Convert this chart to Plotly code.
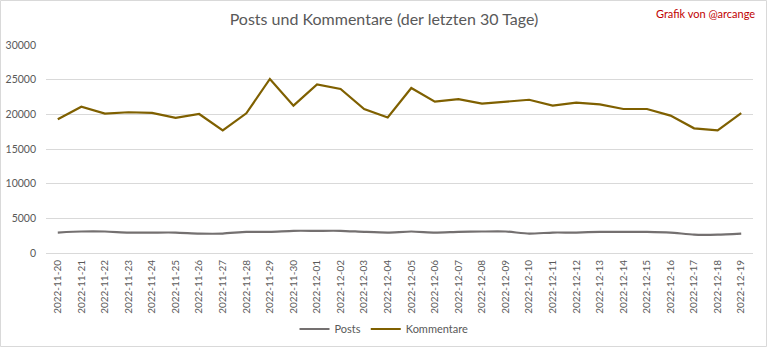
import plotly.graph_objects as go

dates = ["2022-11-20","2022-11-21","2022-11-22","2022-11-23","2022-11-24","2022-11-25",
         "2022-11-26","2022-11-27","2022-11-28","2022-11-29","2022-11-30","2022-12-01",
         "2022-12-02","2022-12-03","2022-12-04","2022-12-05","2022-12-06","2022-12-07",
         "2022-12-08","2022-12-09","2022-12-10","2022-12-11","2022-12-12","2022-12-13",
         "2022-12-14","2022-12-15","2022-12-16","2022-12-17","2022-12-18","2022-12-19"]

posts = [2950, 3100, 3100, 2950, 2950, 2950, 2800, 2800, 3050, 3050,
         3200, 3200, 3200, 3050, 2950, 3100, 2950, 3050, 3100, 3100,
         2800, 2950, 2950, 3050, 3050, 3050, 2950, 2650, 2650, 2800]

kommentare = [19300, 21100, 20100, 20300, 20200, 19500, 20050, 17700, 20150, 25100,
              21250, 24300, 23650, 20770, 19550, 23800, 21830, 22200, 21540, 21830,
              22100, 21250, 21680, 21440, 20770, 20770, 19810, 17980, 17690, 20190]

y_ticks = [0, 5000, 10000, 15000, 20000, 25000, 30000]

FONT = "Lato"
GREY = "#595959"
W, H = 768, 349
L, R, T, B = 46, 15, 45, 96
PW, PH = W - L - R, H - T - B

fig = go.Figure()
fig.add_trace(go.Scatter(x=dates, y=posts, name="Posts", mode="lines",
                         line=dict(color="#747070", width=2.2, shape="spline", smoothing=0.6)))
fig.add_trace(go.Scatter(x=dates, y=kommentare, name="Kommentare", mode="lines",
                         line=dict(color="#7F6000", width=2.2)))

fig.update_layout(
    width=W, height=H,
    margin=dict(l=L, r=R, t=T, b=B, autoexpand=False),
    paper_bgcolor="white", plot_bgcolor="white",
    font=dict(family=FONT, color=GREY, size=11),
    title=dict(text="Posts und Kommentare (der letzten 30 Tage)", x=0.5, xanchor="center",
               y=1 - 19 / H, yanchor="middle", yref="container",
               font=dict(family=FONT, size=16, color=GREY)),
    showlegend=True,
    legend=dict(orientation="h", x=0.5, xanchor="center", xref="container",
                y=1 - 329 / H, yanchor="middle", yref="container",
                font=dict(family=FONT, size=11, color=GREY), itemwidth=30,
                bgcolor="rgba(0,0,0,0)"),
    xaxis=dict(type="category", range=[-0.5, len(dates) - 0.5], tickangle=-90,
               showgrid=False, showline=True, linecolor="#D9D9D9", linewidth=1,
               ticks="", automargin=False, ticklabelstandoff=2,
               tickfont=dict(family=FONT, size=10, color=GREY), fixedrange=True),
    yaxis=dict(range=[0, 30000], tickvals=y_ticks, ticktext=[str(v) for v in y_ticks],
               showgrid=True, gridcolor="#D9D9D9", gridwidth=1, zeroline=False,
               showline=False, ticks="", ticklabelstandoff=9, automargin=False,
               tickfont=dict(family=FONT, size=10.5, color=GREY), fixedrange=True),
    annotations=[dict(text="Grafik von @arcange", xref="paper", yref="paper",
                      x=(757 - L) / PW, y=1 + (T - 13) / PH, xanchor="right", yanchor="middle",
                      showarrow=False, font=dict(family=FONT, size=11, color="#C00000"))],
    shapes=[dict(type="rect", xref="paper", yref="paper",
                 x0=(0.5 - L) / PW, x1=(766.5 - L) / PW,
                 y0=((H - B) - 346.5) / PH, y1=((H - B) - 0.5) / PH,
                 line=dict(color="#D9D9D9", width=1), fillcolor="rgba(0,0,0,0)", layer="below")],
)

fig.write_html("out.html")
